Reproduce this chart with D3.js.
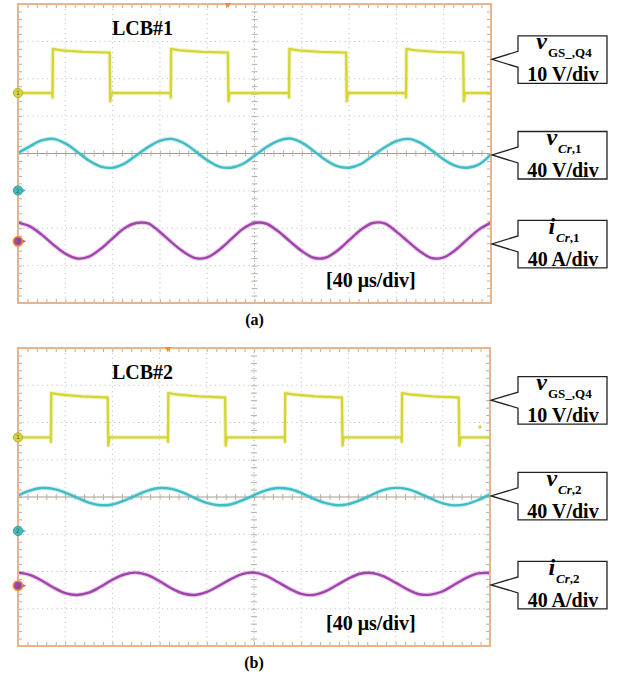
<!DOCTYPE html>
<html>
<head>
<meta charset="utf-8">
<script src="https://cdn.jsdelivr.net/npm/d3@7"></script>
<style>
  html, body { margin: 0; padding: 0; background: #fff; }
  svg { display: block; }
</style>
</head>
<body>
<div id="chart"></div>
<script>
// horizontal: 10 div x 40 us, vertical: 8 div
const timeDiv = 40;
const sampleTimes = d3.range(0, 401, 10);

// ---- LCB#1 : gate pulse (t us, div) ----
const gate1 = [[0,1.62],[29,1.62],[29.2,1.50],[29.5,2.80],[37,2.76],[55,2.72],[77.5,2.70],[78,1.40],[79,1.62],
  [129,1.62],[129.2,1.50],[129.5,2.80],[137,2.76],[155,2.72],[177.5,2.70],[178,1.40],[179,1.62],
  [229,1.62],[229.2,1.50],[229.5,2.80],[237,2.76],[255,2.72],[277.5,2.70],[278,1.40],[279,1.62],
  [328,1.62],[328.2,1.50],[328.5,2.80],[336,2.76],[354,2.72],[376.5,2.70],[377,1.40],[378,1.62],[400,1.62]];
// resonant capacitor voltage, one value per 10 us
const vCr1 = [0.01,0.19,0.35,0.39,0.27,0.05,-0.19,-0.35,-0.38,-0.27,-0.05,
  0.17,0.34,0.39,0.28,0.06,-0.18,-0.35,-0.38,-0.28,-0.06,
  0.17,0.34,0.40,0.29,0.07,-0.17,-0.34,-0.38,-0.28,-0.06,
  0.16,0.33,0.39,0.29,0.08,-0.16,-0.33,-0.38,-0.29,-0.02];
// resonant current
const iCr1 = [-1.85,-1.95,-2.17,-2.44,-2.68,-2.81,-2.76,-2.55,-2.27,-2.00,-1.86,
  -1.87,-2.10,-2.38,-2.63,-2.80,-2.78,-2.58,-2.30,-2.02,-1.86,
  -1.88,-2.08,-2.35,-2.61,-2.79,-2.79,-2.60,-2.32,-2.04,-1.86,
  -1.87,-2.09,-2.36,-2.62,-2.80,-2.78,-2.58,-2.30,-2.03,-1.85];

// ---- LCB#2 ----
const gate2 = [[0,1.60],[27.7,1.60],[27.9,1.48],[28.2,2.79],[36,2.75],[54,2.70],[76,2.67],[76.5,1.38],[77.5,1.60],
  [126.9,1.60],[127.1,1.48],[127.4,2.79],[135,2.75],[153,2.70],[175.5,2.67],[176,1.38],[177,1.60],
  [226,1.60],[226.2,1.48],[226.5,2.79],[234,2.75],[252,2.70],[274.5,2.67],[275,1.38],[276,1.60],
  [325,1.60],[325.2,1.48],[325.5,2.79],[333,2.75],[351,2.70],[373.5,2.67],[374,1.38],[375,1.60],[400,1.60]];
const vCr2 = [0.04,0.17,0.24,0.22,0.12,-0.02,-0.15,-0.22,-0.20,-0.10,0.045,
  0.17,0.24,0.22,0.115,-0.03,-0.16,-0.22,-0.20,-0.09,0.05,
  0.18,0.24,0.215,0.11,-0.04,-0.16,-0.22,-0.19,-0.085,0.06,
  0.19,0.245,0.21,0.10,-0.045,-0.17,-0.225,-0.19,-0.08,0.07];
const iCr2 = [-2.03,-2.09,-2.24,-2.43,-2.58,-2.63,-2.57,-2.41,-2.22,-2.08,-2.03,
  -2.10,-2.26,-2.45,-2.59,-2.63,-2.55,-2.39,-2.21,-2.07,-2.03,
  -2.11,-2.28,-2.46,-2.60,-2.63,-2.54,-2.37,-2.19,-2.06,-2.04,
  -2.13,-2.30,-2.48,-2.61,-2.62,-2.53,-2.35,-2.17,-2.05,-2.04];

// labels
const chanMain = ["v", "v", "i"];
const chanSubItalic = ["", "Cr", "Cr"];
const chanSubRest1 = ["GS_,Q4", ",1", ",1"];
const chanSubRest2 = ["GS_,Q4", ",2", ",2"];
const chanScale = ["10 V/div", "40 V/div", "40 A/div"];

const colors = { gate: "#d4d636", vcr: "#3fbcc4", icr: "#a244ad", frame: "#eab48a", grid: "#c4c4c4", tick: "#b9b0a4" };

const panels = [
  { title: "LCB#1", tag: "(a)", x0: 18, x1: 491, y0: 4, y1: 303, gate: gate1, vcr: vCr1, icr: iCr1, sub: chanSubRest1,
    refs: [1.62, -0.99, -2.35], tips: [2.52, -0.04, -2.42], trig: 177.6, trigLevel: null },
  { title: "LCB#2", tag: "(b)", x0: 18, x1: 490, y0: 348, y1: 646, gate: gate2, vcr: vCr2, icr: iCr2, sub: chanSubRest2,
    refs: [1.60, -0.91, -2.38], tips: [2.6, 0.03, -2.36], trig: 127, trigLevel: [391.5, 1.88] }
];

const svg = d3.select("#chart").append("svg")
  .attr("width", 622).attr("height", 678)
  .style("font-family", "'Liberation Serif', 'Times New Roman', serif");

panels.forEach(p => {
  const x = d3.scaleLinear().domain([0, 400]).range([p.x0, p.x1]);
  const y = d3.scaleLinear().domain([-4, 4]).range([p.y1, p.y0]);
  const g = svg.append("g");

  // dotted graticule
  const grid = g.append("g").attr("stroke", colors.grid).attr("stroke-dasharray", "1.2,3.6").attr("stroke-width", 1);
  grid.selectAll(".gv").data(d3.range(timeDiv, 400, timeDiv).filter(t => t !== 200)).join("line")
    .attr("x1", d => x(d)).attr("x2", d => x(d)).attr("y1", p.y0).attr("y2", p.y1);
  grid.selectAll(".gh").data([-3, -2, -1, 1, 2, 3]).join("line")
    .attr("y1", d => y(d)).attr("y2", d => y(d)).attr("x1", p.x0).attr("x2", p.x1);
  // center axes
  g.append("line").attr("x1", x(200)).attr("x2", x(200)).attr("y1", p.y0).attr("y2", p.y1)
    .attr("stroke", "#b8b8b8").attr("stroke-dasharray", "1.5,2.5");
  g.append("line").attr("x1", p.x0).attr("x2", p.x1).attr("y1", y(0)).attr("y2", y(0))
    .attr("stroke", "#a39d95").attr("stroke-width", 1.2);

  // minor ticks (5 per div)
  const minorT = d3.range(0, 401, 8);
  const minorV = d3.range(-20, 21).map(d => d / 5);
  const tickStyle = sel => { sel.select(".domain").remove(); sel.selectAll("line").attr("stroke", colors.tick); };
  g.append("g").attr("transform", `translate(0,${p.y0})`).call(d3.axisTop(x).tickValues(minorT).tickSize(-4).tickFormat("")).call(tickStyle);
  g.append("g").attr("transform", `translate(0,${p.y1})`).call(d3.axisBottom(x).tickValues(minorT).tickSize(-4).tickFormat("")).call(tickStyle);
  g.append("g").attr("transform", `translate(${p.x0},0)`).call(d3.axisLeft(y).tickValues(minorV).tickSize(-4).tickFormat("")).call(tickStyle);
  g.append("g").attr("transform", `translate(${p.x1},0)`).call(d3.axisRight(y).tickValues(minorV).tickSize(-4).tickFormat("")).call(tickStyle);
  g.append("g").attr("transform", `translate(0,${y(0) - 3})`).call(d3.axisBottom(x).tickValues(minorT).tickSize(6).tickFormat("")).call(tickStyle);
  g.append("g").attr("transform", `translate(${x(200) - 3},0)`).call(d3.axisRight(y).tickValues(minorV).tickSize(6).tickFormat("")).call(tickStyle);

  // traces
  const lineGate = d3.line().x(d => x(d[0])).y(d => y(d[1]));
  const lineS = d3.line().x((d, i) => x(sampleTimes[i])).y(d => y(d)).curve(d3.curveCatmullRom);
  const traces = [[p.gate, lineGate, colors.gate], [p.vcr, lineS, colors.vcr], [p.icr, lineS, colors.icr]];
  traces.forEach(([data, gen, c]) => {
    g.append("path").attr("d", gen(data)).attr("fill", "none").attr("stroke", c)
      .attr("stroke-width", 4.5).attr("stroke-opacity", 0.25).attr("stroke-linejoin", "round");
    g.append("path").attr("d", gen(data)).attr("fill", "none").attr("stroke", c)
      .attr("stroke-width", 2.4).attr("stroke-linejoin", "round");
  });

  // frame
  g.append("rect").attr("x", p.x0).attr("y", p.y0).attr("width", p.x1 - p.x0).attr("height", p.y1 - p.y0)
    .attr("fill", "none").attr("stroke", colors.frame).attr("stroke-width", 2);

  // trigger position marker
  g.append("path").attr("d", `M${x(p.trig) - 3},${p.y0 - 1}L${x(p.trig) + 3},${p.y0 - 1}L${x(p.trig)},${p.y0 + 4}Z`).attr("fill", "#f08a2c");
  if (p.trigLevel) {
    g.append("circle").attr("cx", x(p.trigLevel[0])).attr("cy", y(p.trigLevel[1])).attr("r", 1.8).attr("fill", colors.gate);
  }

  // channel reference markers
  const refColors = [colors.gate, colors.vcr, colors.icr];
  p.refs.forEach((lv, i) => {
    const cy = y(lv);
    if (i > 0) {
      g.append("path").attr("d", `M${p.x0 + 4},${cy - 2}L${p.x0 + 8},${cy}L${p.x0 + 4},${cy + 2}Z`).attr("fill", refColors[i]);
    }
    g.append("circle").attr("cx", p.x0).attr("cy", cy).attr("r", 4.6)
      .attr("fill", refColors[i]).attr("stroke", i === 2 ? "#f08a2c" : d3.color(refColors[i]).darker(0.5)).attr("stroke-width", i === 2 ? 1.6 : 1);
    g.append("text").attr("x", p.x0).attr("y", cy + 2).attr("text-anchor", "middle")
      .attr("font-size", 6).attr("font-family", "DejaVu Sans").attr("fill", "#555").text(i + 1);
  });

  // titles
  g.append("text").attr("x", p.x0 + 94).attr("y", p.y0 + 31).attr("font-size", 20).attr("font-weight", "bold").text(p.title);
  g.append("text").attr("x", p.x0 + 308).attr("y", p.y1 - 16).attr("font-size", 20).attr("font-weight", "bold").text("[40 μs/div]");
  g.append("text").attr("x", x(200)).attr("y", p.y1 + 22).attr("text-anchor", "middle")
    .attr("font-size", 16).attr("font-weight", "bold").text(p.tag);

  // callouts
  p.tips.forEach((lv, i) => {
    const ty = y(lv), tx = p.x1 + 1, bl = 518, br = 607, bt = ty - 23.5, bb = ty + 24;
    g.append("path")
      .attr("d", `M${bl},${bt}L${br},${bt}L${br},${bb}L${bl},${bb}L${bl},${ty + 8}L${tx},${ty}L${bl},${ty - 8}Z`)
      .attr("fill", "#fff").attr("stroke", "#222").attr("stroke-width", 1.3);
    const t1 = g.append("text").attr("x", 564).attr("y", bt + 13.5).attr("text-anchor", "middle").attr("font-weight", "bold");
    t1.append("tspan").attr("font-size", 24).attr("font-style", "italic").text(chanMain[i]);
    if (chanSubItalic[i]) t1.append("tspan").attr("font-size", 13).attr("font-style", "italic").attr("dy", 8).attr("dx", 1).text(chanSubItalic[i]);
    t1.append("tspan").attr("font-size", 13).attr("dy", chanSubItalic[i] ? 0 : 8).attr("dx", chanSubItalic[i] ? 0 : 1).text(p.sub[i]);
    g.append("text").attr("x", 563).attr("y", bb - 2).attr("text-anchor", "middle")
      .attr("font-size", 20).attr("font-weight", "bold").text(chanScale[i]);
  });
});
</script>
</body>
</html>
